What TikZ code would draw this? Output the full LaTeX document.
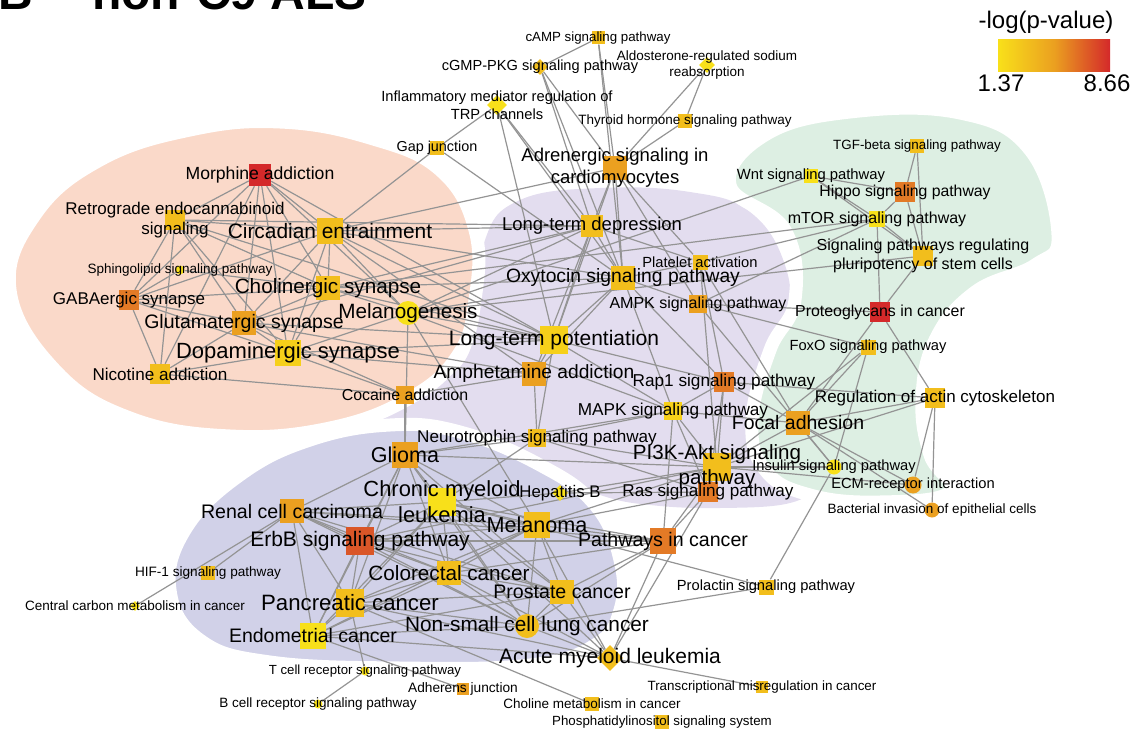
\documentclass[tikz,border=0pt]{standalone}
\usepackage{fontspec}
\setmainfont{Liberation Sans}
\usetikzlibrary{shapes.geometric}

\definecolor{cy}{HTML}{F8E01A}
\definecolor{cyl}{HTML}{F6D01A}
\definecolor{cyo}{HTML}{F2BE1C}
\definecolor{co}{HTML}{EBA020}
\definecolor{cdo}{HTML}{E37A26}
\definecolor{crd}{HTML}{DA5628}
\definecolor{cr}{HTML}{D4292A}
\definecolor{peach}{HTML}{FAD9C9}
\definecolor{lilac}{HTML}{E3DDEF}
\definecolor{slate}{HTML}{D1D1E8}
\definecolor{mint}{HTML}{DDEFE3}

\newcommand\lblfont[1]{\fontsize{#1}{\fpeval{1.2*#1}}\selectfont}

\pgfdeclarelayer{blobs}
\pgfdeclarelayer{links}
\pgfsetlayers{blobs,links,main}

\tikzset{
  every node/.style={inner sep=0pt},
  sq/.style={rectangle, minimum size=#1pt},
  ci/.style={circle, minimum size=#1pt},
  di/.style={diamond, minimum size=#1pt},
  lbl/.style={font=\lblfont{#1}, align=center, text=black},
  link/.style={draw=black!42, line width=1.2pt},
  blob/.style={draw=white, line width=13pt}
}

\begin{document}
\begin{tikzpicture}[x=1pt,y=-1pt]
  \useasboundingbox (0,0) rectangle (1137,730);

  % background groups
  \begin{pgfonlayer}{blobs}
    \fill[lilac] plot[smooth cycle, tension=0.7] coordinates {(370,412) (400,392) (455,372) (478,320) (485,240) (520,200) (600,188) (690,192) (750,212) (785,265) (790,330) (775,380) (790,450) (808,485) (790,503) (720,508) (650,505) (600,495) (540,470) (470,440) (400,424)};
    \filldraw[blob, fill=mint] plot[smooth cycle, tension=0.7] coordinates {(730,185) (765,135) (850,112) (960,113) (1030,150) (1058,235) (1035,265) (975,292) (935,340) (922,400) (930,455) (950,492) (880,502) (810,495) (765,470) (752,420) (770,350) (795,300) (785,230)};
    \filldraw[blob, fill=slate] plot[smooth cycle, tension=0.7] coordinates {(170,590) (185,530) (240,475) (310,440) (390,425) (460,432) (540,465) (595,505) (620,560) (620,610) (595,645) (530,665) (400,668) (270,662) (200,640)};
    \filldraw[blob, fill=peach] plot[smooth cycle, tension=0.7] coordinates {(10,290) (35,215) (100,160) (190,130) (280,122) (370,138) (440,170) (475,230) (475,300) (458,355) (410,398) (330,428) (230,436) (130,418) (55,370)};
  \end{pgfonlayer}

  \node[anchor=base west, font=\bfseries\fontsize{48}{48}\selectfont] (pnl) at (-2,10) {B};
  \node[anchor=base west, font=\bfseries\fontsize{48}{48}\selectfont] (ttl) at (92,10) {non-C9 ALS};

  % legend
  \node[lbl=24] (lgd) at (1046,22) {-log(p-value)};
  \shade[left color=cy, right color=cr, middle color=co] (998,40) rectangle (1110,72);
  \node[lbl=24] (lo) at (1001,83) {1.37};
  \node[lbl=24] (hi) at (1107,83) {8.66};

  % markers
  \node[sq=13, fill=cyo] (camp) at (598,38) {};
  \node[di=16, fill=cyo] (cgmp) at (540,67) {};
  \node[di=16, fill=cy] (aldo) at (707,65) {};
  \node[di=20, fill=cy] (infl) at (497,105) {};
  \node[sq=14, fill=cyo] (thyr) at (685,121) {};
  \node[sq=14, fill=cyo] (gap) at (437,148) {};
  \node[sq=24, fill=co] (adren) at (615,168) {};
  \node[sq=22, fill=cr] (morph) at (260,175) {};
  \node[sq=20, fill=cyo] (retro) at (175,220) {};
  \node[sq=26, fill=cyo] (circ) at (330,231) {};
  \node[sq=22, fill=cyo] (ltd) at (592,226) {};
  \node[sq=14, fill=cyo] (tgf) at (917,146) {};
  \node[sq=14, fill=cy] (wnt) at (811,176) {};
  \node[sq=20, fill=cdo] (hippo) at (905,192) {};
  \node[sq=16, fill=cy] (mtor) at (877,219) {};
  \node[sq=20, fill=cyo] (pluri) at (923,256) {};
  \node[ci=9, fill=cy] (sphingo) at (180,270) {};
  \node[sq=15, fill=cyo] (plate) at (700,262) {};
  \node[sq=24, fill=cyo] (chol) at (328,288) {};
  \node[sq=24, fill=cyo] (oxy) at (623,278) {};
  \node[sq=20, fill=cdo] (gaba) at (129,300) {};
  \node[sq=18, fill=co] (ampk) at (698,304) {};
  \node[ci=24, fill=cy] (melgen) at (408,313) {};
  \node[sq=20, fill=cr] (prot) at (880,312) {};
  \node[sq=24, fill=co] (glut) at (244,323) {};
  \node[sq=28, fill=cyl] (ltp) at (554,340) {};
  \node[sq=15, fill=cyo] (foxo) at (868,347) {};
  \node[sq=26, fill=cyl] (dopa) at (288,353) {};
  \node[sq=20, fill=cyo] (nico) at (160,374) {};
  \node[sq=24, fill=co] (amph) at (534,374) {};
  \node[sq=18, fill=co] (coc) at (405,395) {};
  \node[sq=20, fill=cdo] (rap) at (724,382) {};
  \node[sq=20, fill=cyo] (actin) at (935,398) {};
  \node[sq=18, fill=cyl] (mapk) at (673,411) {};
  \node[sq=24, fill=co] (focal) at (798,423) {};
  \node[sq=18, fill=cyo] (neuro) at (537,438) {};
  \node[sq=26, fill=co] (glioma) at (405,455) {};
  \node[sq=28, fill=cyo] (pik) at (717,467) {};
  \node[ci=15, fill=cy] (insul) at (834,467) {};
  \node[sq=28, fill=cy] (cml) at (442,502) {};
  \node[di=16, fill=cy] (hepb) at (560,493) {};
  \node[ci=17, fill=co] (ecm) at (913,485) {};
  \node[sq=20, fill=cdo] (ras) at (708,492) {};
  \node[sq=24, fill=co] (renal) at (292,511) {};
  \node[ci=15, fill=co] (bact) at (932,510) {};
  \node[sq=26, fill=cyo] (melan) at (537,525) {};
  \node[sq=28, fill=crd] (erbb) at (360,541) {};
  \node[sq=26, fill=cdo] (pic) at (663,541) {};
  \node[sq=14, fill=cyo] (hif) at (208,573) {};
  \node[sq=24, fill=cyo] (colo) at (449,573) {};
  \node[sq=24, fill=cyo] (prost) at (562,592) {};
  \node[sq=15, fill=cyo] (prol) at (766,587) {};
  \node[di=10, fill=cy] (ccm) at (135,606) {};
  \node[sq=28, fill=cyo] (panc) at (350,603) {};
  \node[sq=26, fill=cy] (endo) at (313,636) {};
  \node[ci=24, fill=cyo] (nsclc) at (527,626) {};
  \node[di=26, fill=cyo] (aml) at (610,658) {};
  \node[ci=9, fill=cy] (tcell) at (365,671) {};
  \node[sq=12, fill=co] (adh) at (463,689) {};
  \node[sq=12, fill=cyo] (trans) at (762,687) {};
  \node[ci=9, fill=cy] (bcell) at (318,704) {};
  \node[sq=14, fill=cyo] (chom) at (592,704) {};
  \node[sq=14, fill=cyo] (phos) at (662,722) {};

  % shared genes
  \begin{pgfonlayer}{links}
  \foreach \from/\to in {camp/cgmp, camp/adren, camp/oxy, cgmp/adren, cgmp/oxy, cgmp/ltd,
    aldo/thyr, aldo/adren, thyr/adren, infl/gap, infl/ltd, infl/oxy, infl/ltp, gap/circ, gap/oxy,
    adren/ltd, adren/oxy, adren/plate, adren/circ, adren/ampk, adren/ltp,
    morph/retro, morph/circ, morph/gaba, morph/glut, morph/dopa, morph/chol, morph/nico, morph/ltp, morph/melgen,
    retro/circ, retro/gaba, retro/glut, retro/dopa, retro/nico, retro/chol, retro/ltd, retro/ltp,
    sphingo/chol, sphingo/gaba,
    circ/chol, circ/glut, circ/dopa, circ/gaba, circ/melgen, circ/ltd, circ/oxy, circ/ltp, circ/amph,
    gaba/glut, gaba/nico, gaba/chol, gaba/dopa,
    glut/chol, glut/dopa, glut/nico, glut/ltp, glut/ltd, glut/amph, glut/coc,
    chol/dopa, chol/melgen, chol/ltp, chol/oxy, chol/ltd, chol/mtor,
    dopa/nico, dopa/coc, dopa/amph, dopa/ltp, dopa/melgen, nico/coc,
    melgen/ltp, melgen/oxy, melgen/glioma, melgen/wnt, melgen/pluri, melgen/ltd, melgen/mapk, melgen/melan,
    ltd/oxy, ltd/ltp, ltd/plate, ltd/amph,
    oxy/ltp, oxy/plate, oxy/ampk, oxy/amph, oxy/mapk, oxy/rap,
    plate/rap, plate/pik, plate/focal, plate/mtor,
    ampk/prot, ampk/foxo, ampk/mtor, ampk/insul,
    ltp/amph, ltp/mapk, ltp/rap, ltp/neuro, amph/coc, amph/neuro,
    rap/mapk, rap/pik, rap/focal, rap/actin, rap/ras,
    mapk/pik, mapk/ras, mapk/focal, mapk/neuro, mapk/glioma, mapk/pic,
    neuro/pik, neuro/glioma, neuro/ras, neuro/cml, coc/glioma,
    tgf/hippo, tgf/pluri, wnt/hippo, wnt/mtor, wnt/pluri, hippo/mtor, hippo/pluri, mtor/pluri,
    mtor/prot, pluri/prot, prot/actin, prot/focal,
    foxo/focal, foxo/insul, foxo/pik, actin/focal, actin/ecm, actin/bact, actin/pik,
    focal/ecm, focal/bact, focal/insul, focal/pik, insul/pik, ecm/pik, prol/insul,
    glioma/cml, glioma/renal, glioma/erbb, glioma/melan, glioma/colo, glioma/prost, glioma/panc,
    glioma/endo, glioma/nsclc, glioma/pik,
    cml/renal, cml/erbb, cml/melan, cml/colo, cml/prost, cml/panc, cml/endo, cml/nsclc, cml/aml,
    cml/pic, cml/prol, cml/hepb,
    renal/erbb, renal/melan, renal/colo, renal/prost, renal/panc, renal/endo, renal/nsclc, renal/pic,
    renal/hif, renal/ccm,
    erbb/melan, erbb/colo, erbb/prost, erbb/panc, erbb/endo, erbb/nsclc, erbb/pic, erbb/pik,
    melan/colo, melan/prost, melan/panc, melan/endo, melan/nsclc, melan/aml, melan/pic, melan/pik, melan/ras,
    colo/prost, colo/panc, colo/endo, colo/nsclc, colo/aml, colo/pic,
    prost/panc, prost/endo, prost/nsclc, prost/aml, prost/pic,
    panc/endo, panc/nsclc, panc/aml, panc/tcell, panc/chom, endo/nsclc, endo/aml, endo/adh,
    nsclc/aml, nsclc/pic, nsclc/prol, aml/pic, aml/trans, aml/ras,
    pic/pik, pic/ras, pik/ras, pik/hepb, hepb/ras, tcell/bcell}
    \draw[link] (\from) -- (\to);
  \end{pgfonlayer}

  % labels
  \node[lbl=13.3] at (camp) {cAMP signaling pathway};
  \node[lbl=14.6] at (cgmp) {cGMP-PKG signaling pathway};
  \node[lbl=13.5] at (aldo) {Aldosterone-regulated sodium\\reabsorption};
  \node[lbl=14.7] at (infl) {Inflammatory mediator regulation of\\TRP channels};
  \node[lbl=13.5] at (thyr) {Thyroid hormone signaling pathway};
  \node[lbl=14.4] at (gap) {Gap junction};
  \node[lbl=18.5] at (adren) {Adrenergic signaling in\\cardiomyocytes};
  \node[lbl=17.6] at (morph) {Morphine addiction};
  \node[lbl=17] at (retro) {Retrograde endocannabinoid\\signaling};
  \node[lbl=20.9] at (circ) {Circadian entrainment};
  \node[lbl=18.5] at (ltd) {Long-term depression};
  \node[lbl=13.4] at (tgf) {TGF-beta signaling pathway};
  \node[lbl=14.8] at (wnt) {Wnt signaling pathway};
  \node[lbl=15.8] at (hippo) {Hippo signaling pathway};
  \node[lbl=16] at (mtor) {mTOR signaling pathway};
  \node[lbl=16] at (pluri) {Signaling pathways regulating\\pluripotency of stem cells};
  \node[lbl=13.5] at (sphingo) {Sphingolipid signaling pathway};
  \node[lbl=14.7] at (plate) {Platelet activation};
  \node[lbl=20.7] at (chol) {Cholinergic synapse};
  \node[lbl=19.3] at (oxy) {Oxytocin signaling pathway};
  \node[lbl=17] at (gaba) {GABAergic synapse};
  \node[lbl=16] at (ampk) {AMPK signaling pathway};
  \node[lbl=20.7] at (melgen) {Melanogenesis};
  \node[lbl=15.9] at (prot) {Proteoglycans in cancer};
  \node[lbl=19.5] at (glut) {Glutamatergic synapse};
  \node[lbl=21] at (ltp) {Long-term potentiation};
  \node[lbl=14.7] at (foxo) {FoxO signaling pathway};
  \node[lbl=22] at (dopa) {Dopaminergic synapse};
  \node[lbl=17.1] at (nico) {Nicotine addiction};
  \node[lbl=19.2] at (amph) {Amphetamine addiction};
  \node[lbl=15.9] at (coc) {Cocaine addiction};
  \node[lbl=17.2] at (rap) {Rap1 signaling pathway};
  \node[lbl=17] at (actin) {Regulation of actin cytoskeleton};
  \node[lbl=17.2] at (mapk) {MAPK signaling pathway};
  \node[lbl=19.5] at (focal) {Focal adhesion};
  \node[lbl=17.1] at (neuro) {Neurotrophin signaling pathway};
  \node[lbl=21.5] at (glioma) {Glioma};
  \node[lbl=20.6] at (pik) {PI3K-Akt signaling\\pathway};
  \node[lbl=14.7] at (insul) {Insulin signaling pathway};
  \node[lbl=21.9] at (cml) {Chronic myeloid\\leukemia};
  \node[lbl=16.8] at (hepb) {Hepatitis B};
  \node[lbl=14.7] at (ecm) {ECM-receptor interaction};
  \node[lbl=17.1] at (ras) {Ras signaling pathway};
  \node[lbl=19.6] at (renal) {Renal cell carcinoma};
  \node[lbl=13.5] at (bact) {Bacterial invasion of epithelial cells};
  \node[lbl=21.6] at (melan) {Melanoma};
  \node[lbl=21] at (erbb) {ErbB signaling pathway};
  \node[lbl=19.6] at (pic) {Pathways in cancer};
  \node[lbl=13.6] at (hif) {HIF-1 signaling pathway};
  \node[lbl=20.7] at (colo) {Colorectal cancer};
  \node[lbl=19.6] at (prost) {Prostate cancer};
  \node[lbl=14.7] at (prol) {Prolactin signaling pathway};
  \node[lbl=13.5] at (ccm) {Central carbon metabolism in cancer};
  \node[lbl=22.2] at (panc) {Pancreatic cancer};
  \node[lbl=19.5] at (endo) {Endometrial cancer};
  \node[lbl=20.8] at (nsclc) {Non-small cell lung cancer};
  \node[lbl=21] at (aml) {Acute myeloid leukemia};
  \node[lbl=13.2] at (tcell) {T cell receptor signaling pathway};
  \node[lbl=13.7] at (adh) {Adherens junction};
  \node[lbl=13.4] at (trans) {Transcriptional misregulation in cancer};
  \node[lbl=13.5] at (bcell) {B cell receptor signaling pathway};
  \node[lbl=13.5] at (chom) {Choline metabolism in cancer};
  \node[lbl=13.3] at (phos) {Phosphatidylinositol signaling system};
\end{tikzpicture}
\end{document}
